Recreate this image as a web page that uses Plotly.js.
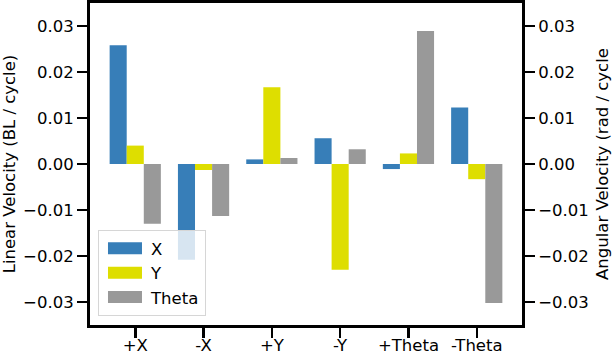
<!DOCTYPE html>
<html>
<head>
<meta charset="utf-8">
<script src="https://cdn.plot.ly/plotly-3.0.1.min.js"></script>
<style>
  html, body { margin: 0; padding: 0; background: #ffffff; }
  #chart { width: 612px; height: 354px; }
</style>
</head>
<body>
<div id="chart"></div>
<script>
// Commanded direction for each group of bars
const categories = ['+X', '-X', '+Y', '-Y', '+Theta', '-Theta'];

// Measured velocity components per command
const xValues = [0.0258, -0.0208, 0.0010, 0.0056, -0.0011, 0.0123];
const yValues = [0.0040, -0.0013, 0.0167, -0.0230, 0.0023, -0.0033];
const thetaValues = [-0.0130, -0.0113, 0.0013, 0.0032, 0.0289, -0.0302];

// Velocity ticks (same on both sides), with a real minus sign
const tickValues = [-0.03, -0.02, -0.01, 0.00, 0.01, 0.02, 0.03];
const tickLabels = ['\u22120.03', '\u22120.02', '\u22120.01', '0.00', '0.01', '0.02', '0.03'];

const font = { family: 'DejaVu Sans, sans-serif', size: 16.5, color: '#000000' };

function barTrace(name, values, color) {
  return {
    x: categories,
    y: values,
    name: name,
    type: 'bar',
    marker: { color: color, line: { width: 0 } },
  };
}

const traces = [
  barTrace('X', xValues, '#377eb8'),
  barTrace('Y', yValues, '#dede00'),
  barTrace('Theta', thetaValues, '#999999'),
  // invisible trace so the right-hand angular axis gets drawn
  {
    x: categories,
    y: thetaValues,
    yaxis: 'y2',
    type: 'scatter',
    mode: 'markers',
    marker: { opacity: 0 },
    showlegend: false,
    hoverinfo: 'skip',
  },
];

const yAxisCommon = {
  range: [-0.035, 0.035],
  tickmode: 'array',
  tickvals: tickValues,
  ticktext: tickLabels,
  ticks: 'outside',
  ticklen: 10,
  tickwidth: 2.5,
  tickcolor: '#000000',
  showgrid: false,
  zeroline: false,
  showline: true,
  linewidth: 3,
  linecolor: '#000000',
  tickfont: font,
};

const layout = {
  width: 612,
  height: 354,
  margin: { l: 90, r: 90, t: 3, b: 29 },
  paper_bgcolor: '#ffffff',
  plot_bgcolor: '#ffffff',
  font: font,
  barmode: 'group',
  bargap: 0.25,
  bargroupgap: 0,
  showlegend: true,
  legend: {
    x: 0.0185,
    y: 0.028,
    xanchor: 'left',
    yanchor: 'bottom',
    itemwidth: 42,
    bgcolor: 'rgba(255,255,255,0.8)',
    bordercolor: '#d6d6d6',
    borderwidth: 1,
    font: font,
  },
  xaxis: {
    type: 'category',
    range: [-0.6625, 5.6625],
    ticks: 'outside',
    ticklen: 10,
    tickwidth: 2.5,
    tickcolor: '#000000',
    ticklabelstandoff: -7,
    showgrid: false,
    zeroline: false,
    showline: true,
    mirror: true,
    linewidth: 3,
    linecolor: '#000000',
    tickfont: font,
  },
  yaxis: Object.assign({}, yAxisCommon, {
    mirror: true,
    title: { text: 'Linear Velocity (BL / cycle)', font: font, standoff: 12 },
  }),
  yaxis2: Object.assign({}, yAxisCommon, {
    overlaying: 'y',
    side: 'right',
    title: { text: 'Angular Velocity (rad / cycle', font: font, standoff: 12 },
  }),
};

Plotly.newPlot('chart', traces, layout, { displayModeBar: false, staticPlot: true }).then(gd => {
  // widen the legend swatches to the long, flat patches of the original
  gd.querySelectorAll('.legend .legendpoints path').forEach(p => {
    p.setAttribute('d', 'M17,6H-17V-6H17Z');
  });
});
</script>
</body>
</html>
